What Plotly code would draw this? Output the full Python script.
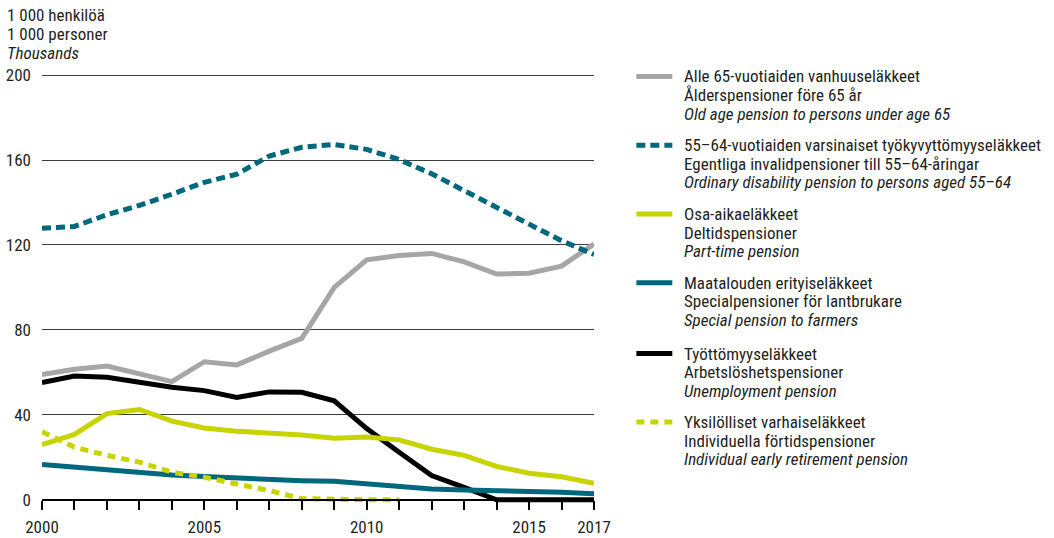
import plotly.graph_objects as go

years = list(range(2000, 2018))

old_age = [59, 61.5, 63, 59, 55.6, 65, 63.5, 70, 76, 100, 113, 115, 116, 112, 106.3, 106.7, 110, 120.5]
disability_55_64 = [127.9, 128.7, 134.2, 138.6, 143.9, 149.5, 153.3, 161.9, 166, 167.3, 165, 160.2, 153.5, 145.8, 137.9, 129.8, 122, 115.5]
part_time = [26, 30.8, 40.6, 42.5, 37, 33.8, 32.3, 31.5, 30.5, 29, 29.6, 28.2, 23.8, 20.9, 15.7, 12.5, 10.8, 7.7]
farmers = [16.6, 15.3, 14.2, 12.9, 11.7, 10.9, 10.1, 9.6, 9.0, 8.7, 7.5, 6.3, 5.1, 4.6, 4.3, 3.9, 3.5, 2.8]
unemployment = [55.2, 58.3, 57.7, 55.5, 53, 51.4, 48.2, 50.8, 50.6, 46.6, 33.5, 22.4, 11.4, 5.8, 0, 0, 0, 0]
individual_early = [32, 24.8, 20.9, 17.7, 13, 10.6, 7.4, 4.3, 0.5, 0, 0, 0, None, None, None, None, None, None]

y_ticks = [0, 40, 80, 120, 160, 200]
x_tick_labels = {2000: "2000", 2005: "2005", 2010: "2010", 2015: "2015", 2017: "2017"}

axis_title = ["1 000 henkilöä", "1 000 personer", "<i>Thousands</i>"]

GRAY = "#a6a6a6"
TEAL = "#00687d"
LIME = "#c8d400"
BLACK = "#000000"
FONT = "Roboto Condensed, Liberation Sans Narrow, Arial Narrow, sans-serif"
TXT = "#231f20"

series = [
    dict(name="unemp", y=unemployment, color=BLACK, dash="solid"),
    dict(name="old", y=old_age, color=GRAY, dash="solid"),
    dict(name="dis", y=disability_55_64, color=TEAL, dash="9px,5px"),
    dict(name="farm", y=farmers, color=TEAL, dash="solid"),
    dict(name="part", y=part_time, color=LIME, dash="solid"),
    dict(name="indiv", y=individual_early, color=LIME, dash="8px,6px"),
]

legend_entries = [
    (GRAY, "solid", ["Alle 65-vuotiaiden vanhuuseläkkeet", "Ålderspensioner före 65 år", "<i>Old age pension to persons under age 65</i>"]),
    (TEAL, "9px,5px", ["55–64-vuotiaiden varsinaiset työkyvyttömyyseläkkeet", "Egentliga invalidpensioner till 55–64-åringar", "<i>Ordinary disability pension to persons aged 55–64</i>"]),
    (LIME, "solid", ["Osa-aikaeläkkeet", "Deltidspensioner", "<i>Part-time pension</i>"]),
    (TEAL, "solid", ["Maatalouden erityiseläkkeet", "Specialpensioner för lantbrukare", "<i>Special pension to farmers</i>"]),
    (BLACK, "solid", ["Työttömyyseläkkeet", "Arbetslöshetspensioner", "<i>Unemployment pension</i>"]),
    (LIME, "8px,6px", ["Yksilölliset varhaiseläkkeet", "Individuella förtidspensioner", "<i>Individual early retirement pension</i>"]),
]

fig = go.Figure()
for s in series:
    fig.add_trace(go.Scatter(
        x=years, y=s["y"], mode="lines", name=s["name"],
        line=dict(color=s["color"], width=5, dash=s["dash"]),
        showlegend=False, hoverinfo="skip",
    ))

# plot area in pixels
W, H = 1054, 538
Y_MIN, Y_MAX = -2, 200.5
PX_PER_UNIT = 2.12
ZERO_PX = 499.3
X0, X1 = 41.7, 594.3
Y_TOP = ZERO_PX - Y_MAX * PX_PER_UNIT
Y_BOT = ZERO_PX - Y_MIN * PX_PER_UNIT


def px(xp):
    return (xp - X0) / (X1 - X0)


def py(yp):
    return (Y_BOT - yp) / (Y_BOT - Y_TOP)


annotations = []
shapes = []

for i, line in enumerate(axis_title):
    annotations.append(dict(
        x=px(5), y=py(15 + 19 * i), xref="paper", yref="paper",
        xanchor="left", yanchor="middle", text=line, showarrow=False,
        font=dict(family=FONT, size=17, color=TXT),
    ))

entry_y = [76.7, 145.3, 214, 282.7, 353.3, 421.7]
for (color, dash, lines), ey in zip(legend_entries, entry_y):
    shapes.append(dict(
        type="line", xref="paper", yref="paper",
        x0=px(636.7), x1=px(672.7), y0=py(ey), y1=py(ey),
        line=dict(color=color, width=5, dash=dash),
    ))
    for j, t in enumerate(lines):
        annotations.append(dict(
            x=px(682), y=py(ey + 18.5 * j), xref="paper", yref="paper",
            xanchor="left", yanchor="middle", text=t, showarrow=False,
            font=dict(family=FONT, size=17, color=TXT),
        ))

fig.update_layout(
    width=W, height=H,
    margin=dict(l=X0, r=W - X1, t=Y_TOP, b=H - Y_BOT, autoexpand=False),
    paper_bgcolor="white", plot_bgcolor="white",
    font=dict(family=FONT, size=17, color=TXT),
    showlegend=False,
    annotations=annotations,
    shapes=shapes,
    xaxis=dict(
        range=[2000, 2017],
        tickvals=years,
        ticktext=[x_tick_labels.get(y, "") for y in years],
        ticks="outside", ticklen=9, tickwidth=1.5, tickcolor="black",
        showline=True, linecolor="black", linewidth=1.5,
        showgrid=False, zeroline=False,
        anchor="free", position=(0 - Y_MIN) / (Y_MAX - Y_MIN),
        tickfont=dict(family=FONT, size=17, color=TXT),
        ticklabelstandoff=3,
        automargin=False,
    ),
    yaxis=dict(
        range=[Y_MIN, Y_MAX],
        tickvals=y_ticks,
        ticks="", showline=False, zeroline=False,
        showgrid=True, gridcolor="#3c3c3c", gridwidth=1.2,
        tickfont=dict(family=FONT, size=17, color=TXT),
        ticklabelstandoff=10,
        automargin=False,
    ),
)

fig.write_html(
    "out.html",
    config={"displayModeBar": False},
    post_script="document.body.style.margin='0';document.body.style.padding='0';",
)
